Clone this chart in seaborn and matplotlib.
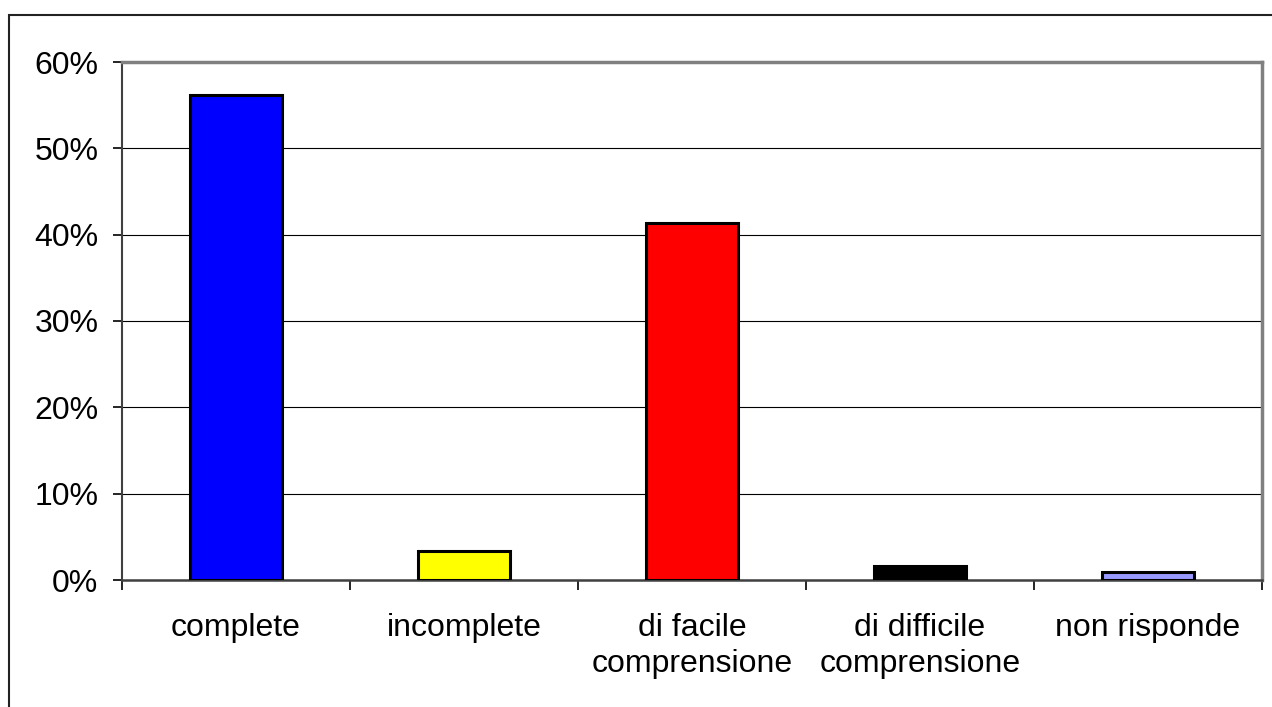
import matplotlib
matplotlib.use("Agg")
import matplotlib.pyplot as plt
import seaborn as sns
import pandas as pd
from matplotlib.patches import Rectangle
from matplotlib.ticker import FixedLocator

categories = ["complete", "incomplete", "di facile\ncomprensione", "di difficile\ncomprensione", "non risponde"]
values = [56.2, 3.4, 41.4, 1.6, 0.95]
colors = ["#0000FF", "#FFFF00", "#FF0000", "#000000", "#9999FF"]
ytick_vals = [0, 10, 20, 30, 40, 50, 60]
ytick_labels = ["0%", "10%", "20%", "30%", "40%", "50%", "60%"]

sns.set_theme(style="white")
plt.rcParams["font.family"] = ["Liberation Sans", "DejaVu Sans"]
plt.rcParams["text.color"] = "black"
plt.rcParams["xtick.color"] = "black"
plt.rcParams["ytick.color"] = "black"

W, H = 1272, 707
fig = plt.figure(figsize=(W / 100, H / 100), dpi=100)
ax = fig.add_axes([122 / W, 1 - 580 / H, (1262 - 122) / W, (580 - 62) / H])

df = pd.DataFrame({"cat": categories, "val": values})
sns.barplot(data=df, x="cat", y="val", hue="cat", palette=colors, legend=False,
            saturation=1, width=0.40, edgecolor="black", linewidth=2.2, ax=ax, zorder=3)

ax.set_xlim(-0.5, len(categories) - 0.5)
ax.set_ylim(0, 60)
ax.set_yticks(ytick_vals)
ax.set_yticklabels(ytick_labels, fontsize=23, color="black")
ax.yaxis.grid(True, color="black", linewidth=0.8, zorder=0)
ax.set_axisbelow(True)
ax.set_xlabel("")
ax.set_ylabel("")
ax.set_xticks(range(len(categories)))
ax.set_xticklabels(categories, fontsize=23, linespacing=1.25, color="black")
ax.tick_params(axis="x", length=0, pad=24)
ax.xaxis.set_minor_locator(FixedLocator([i - 0.5 for i in range(len(categories) + 1)]))
ax.tick_params(axis="x", which="minor", length=7.2, width=1.2, color="black", direction="out", bottom=True)
ax.tick_params(axis="y", length=6.5, width=1.2, color="black", direction="out", left=True, pad=10.5)

for side in ["top", "right"]:
    ax.spines[side].set_color("#808080")
    ax.spines[side].set_linewidth(2.5)
ax.spines["left"].set_color("#404040")
ax.spines["left"].set_linewidth(1.5)
ax.spines["bottom"].set_color("#404040")
ax.spines["bottom"].set_linewidth(1.8)
for s in ax.spines.values():
    s.set_visible(True)

fig.patches.append(Rectangle((8.5 / W, -0.1), 1.2, 1.1 - 15.5 / H, transform=fig.transFigure,
                             fill=False, edgecolor="#222222", linewidth=1.5, clip_on=False))

fig.savefig("out.png", dpi=100, facecolor="white")
